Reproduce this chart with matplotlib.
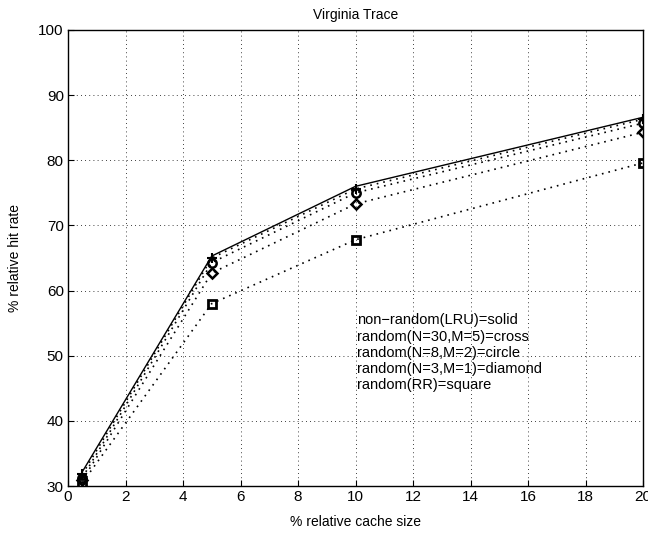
import matplotlib
matplotlib.use("Agg")
import matplotlib.pyplot as plt

plt.rcParams['font.family'] = ['Liberation Sans', 'DejaVu Sans']

cache_size = [0.5, 5, 10, 20]
lru = [32.2, 65.3, 76.0, 86.6]
rand_n30 = [31.8, 65.0, 75.6, 86.3]
rand_n8 = [31.3, 64.3, 75.0, 85.7]
rand_n3 = [30.9, 62.7, 73.3, 84.3]
rand_rr = [30.5, 58.0, 67.8, 79.6]

legend_text = ("non\u2212random(LRU)=solid\nrandom(N=30,M=5)=cross\n"
               "random(N=8,M=2)=circle\nrandom(N=3,M=1)=diamond\nrandom(RR)=square")

fig = plt.figure(figsize=(6.48, 5.33), dpi=100)
ax = fig.add_axes([68/648, 1-486/533, (643-68)/648, (486-30)/533])

ax.plot(cache_size, lru, '-', color='black', lw=1.0)
ax.plot(cache_size, rand_n30, color='black', lw=1.2, ls=(0, (1, 3)), marker='+', ms=7, mew=1.5)
ax.plot(cache_size, rand_n8, color='black', lw=1.2, ls=(0, (1, 3)), marker='o', ms=6, mfc='none', mew=1.8)
ax.plot(cache_size, rand_n3, color='black', lw=1.2, ls=(0, (1, 3)), marker='D', ms=5.5, mfc='none', mew=1.8)
ax.plot(cache_size, rand_rr, color='black', lw=1.2, ls=(0, (1, 3)), marker='s', ms=5.5, mfc='none', mew=2.0)

ax.set_xlim(0, 20)
ax.set_ylim(30, 100)
ax.set_xticks(range(0, 21, 2))
ax.set_yticks(range(30, 101, 10))
ax.grid(True, color='black', lw=0.6, ls=(0, (1, 4)))
ax.tick_params(direction='in', labelsize=11, length=4, color='black', pad=3)
for s in ax.spines.values():
    s.set_linewidth(1.0)

ax.set_title('Virginia Trace', fontsize=10, pad=8)
ax.set_xlabel('% relative cache size', fontsize=10, labelpad=8)
ax.set_ylabel('% relative hit rate', fontsize=10, labelpad=12)

ax.text(10.05, 56.5, legend_text, fontsize=10.5, va='top', ha='left', linespacing=1.2)

fig.savefig('out.png', dpi=100)
